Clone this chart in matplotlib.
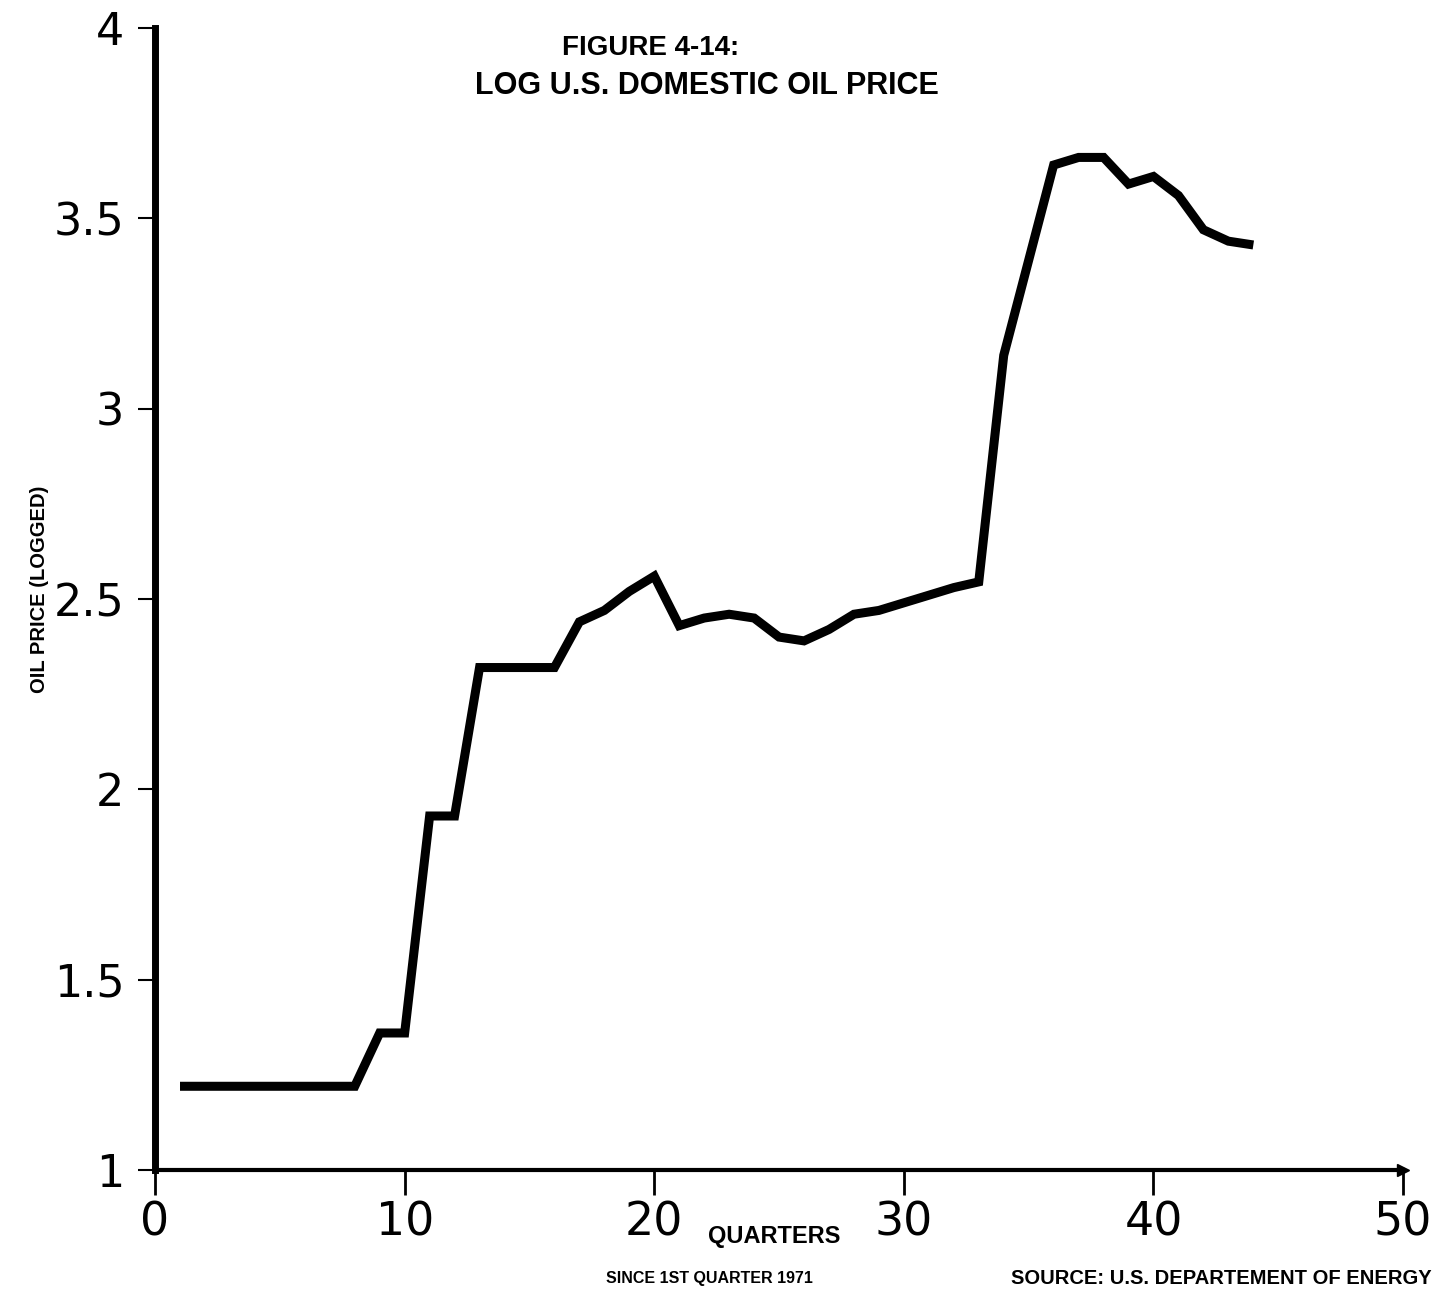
import numpy as np
import matplotlib.pyplot as plt

# quarterly log oil price, quarters counted from Q1 1971
quarters = list(range(1, 45))
log_price = [1.22, 1.22, 1.22, 1.22, 1.22, 1.22, 1.22, 1.22,
             1.36, 1.36, 1.93, 1.93,
             2.32, 2.32, 2.32, 2.32,
             2.44, 2.47, 2.52, 2.56,
             2.43, 2.45, 2.46, 2.45, 2.40, 2.39, 2.42, 2.46, 2.47,
             2.49, 2.51, 2.53, 2.545,
             3.14, 3.39, 3.64, 3.66, 3.66, 3.59, 3.61, 3.56, 3.47, 3.44, 3.43]

x_ticks = [0, 10, 20, 30, 40, 50]
y_ticks = [1, 1.5, 2, 2.5, 3, 3.5, 4]
y_ticklabels = ['1', '1.5', '2', '2.5', '3', '3.5', '4']

fig = plt.figure(figsize=(14.45, 12.96), dpi=100)
ax = fig.add_axes([0.1073, 0.0972, 0.8637, 0.8812])

ax.plot(quarters, log_price, color='black', lw=6.5, solid_joinstyle='miter',
        solid_capstyle='butt')

ax.set_xlim(0, 50)
ax.set_ylim(1, 4)

for side in ['top', 'right']:
    ax.spines[side].set_visible(False)
ax.spines['left'].set_linewidth(5)
ax.spines['bottom'].set_linewidth(3)
ax.plot([50], [1], marker='>', color='black', ms=9, clip_on=False)

ax.set_xticks(x_ticks)
ax.set_xticklabels([str(t) for t in x_ticks], fontsize=33, family='DejaVu Sans')
ax.set_yticks(y_ticks)
ax.set_yticklabels(y_ticklabels, fontsize=32, family='DejaVu Sans')
ax.tick_params(axis='x', direction='out', length=18, width=2, pad=4)
ax.tick_params(axis='y', direction='out', length=12, width=1.5, pad=10)

# y label placed by hand so it sits close to the figure edge
fig.text(0.027, 0.545, 'OIL PRICE (LOGGED)', rotation=90, ha='center',
         va='center', fontsize=14.5, fontweight='bold', family='Liberation Sans')

fig.text(0.450, 0.963, 'FIGURE 4-14:', ha='center', va='center',
         fontsize=20, fontweight='bold', family='Liberation Sans')
fig.text(0.489, 0.934, 'LOG U.S. DOMESTIC OIL PRICE', ha='center', va='center',
         fontsize=22, fontweight='bold', family='Liberation Sans')

fig.text(0.536, 0.046, 'QUARTERS', ha='center', va='center',
         fontsize=17, fontweight='bold', family='Liberation Sans')
fig.text(0.491, 0.0135, 'SINCE 1ST QUARTER 1971', ha='center', va='center',
         fontsize=11.5, fontweight='bold', family='Liberation Sans')
fig.text(0.700, 0.0135, 'SOURCE: U.S. DEPARTEMENT OF ENERGY', ha='left',
         va='center', fontsize=14.5, fontweight='bold',
         family='Liberation Sans')

fig.savefig('out.png', dpi=100)
